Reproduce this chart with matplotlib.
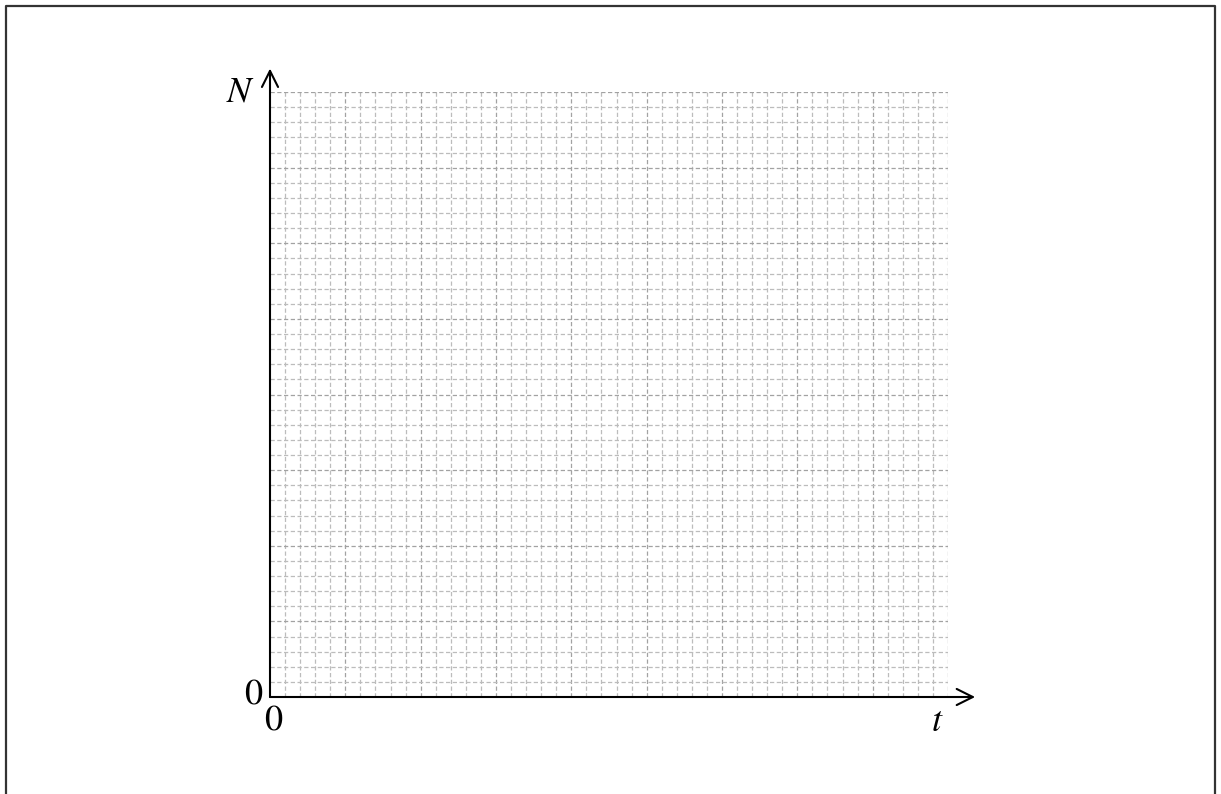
import numpy as np
import matplotlib
matplotlib.use("Agg")
import matplotlib.pyplot as plt
from matplotlib.lines import Line2D

plt.rcParams["mathtext.fontset"] = "stix"

# blank graph paper: t on x, N on y
T_CELLS = 45
N_CELLS = 40
MAJOR_EVERY = 5
X_LABEL = "$t$"
Y_LABEL = "$N$"
ORIGIN_X = "$0$"
ORIGIN_Y = "$0$"

W, H = 1221, 794
fig = plt.figure(figsize=(W / 100, H / 100), dpi=100)
ax = fig.add_axes([270 / W, (H - 697) / H, 678 / W, 605 / H])
ax.set_xlim(0, T_CELLS)
ax.set_ylim(0, N_CELLS)
ax.set_axis_off()

dash = (0, (3.4, 2.0))
xs = np.arange(1, T_CELLS + 1)
ys = np.arange(1, N_CELLS + 1)
for x in xs:
    major = x % MAJOR_EVERY == 0
    ax.plot([x, x], [0, N_CELLS], color="#a2a2a2" if major else "#bcbcbc",
            lw=0.9, ls=dash, zorder=1)
for y in ys:
    major = y % MAJOR_EVERY == 0
    ax.plot([0, T_CELLS], [y, y], color="#a2a2a2" if major else "#bcbcbc",
            lw=0.9, ls=dash, zorder=1)

# axes with open arrow heads
arrow = dict(arrowstyle="->", color="black", lw=1.5, mutation_scale=29, shrinkA=0, shrinkB=0)
ax.annotate("", xy=(46.8, 0), xytext=(0, 0), arrowprops=arrow, annotation_clip=False)
ax.annotate("", xy=(0, 41.55), xytext=(0, 0), arrowprops=arrow, annotation_clip=False)

fs = 26
fig.text(240 / W, 1 - 91 / H, Y_LABEL, fontsize=fs, ha="center", va="center")
fig.text(937 / W, 1 - 721 / H, X_LABEL, fontsize=fs, ha="center", va="center")
fig.text(254 / W, 1 - 693 / H, ORIGIN_Y, fontsize=fs, ha="center", va="center")
fig.text(274 / W, 1 - 719 / H, ORIGIN_X, fontsize=fs, ha="center", va="center")

# page frame (open at the bottom)
fx0, fx1, fy1 = 6 / W, 1215 / W, 1 - 6 / H
fig.add_artist(Line2D([fx0, fx0, fx1, fx1], [0, fy1, fy1, 0], color="#333333", lw=1.6,
                      transform=fig.transFigure))

fig.savefig("out.png", dpi=100)
